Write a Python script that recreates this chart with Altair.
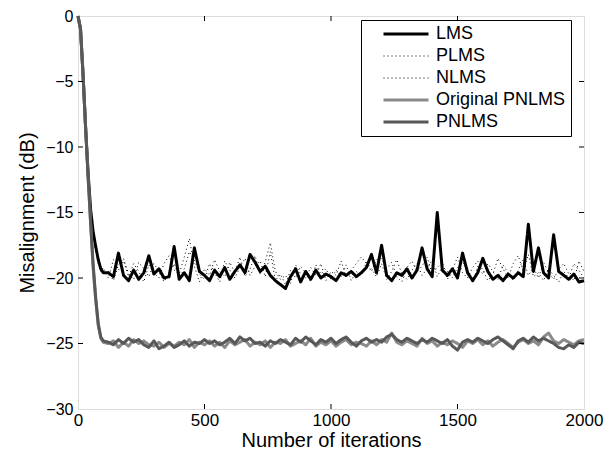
import altair as alt
import pandas as pd

# ---------- data ----------
series_names = ["LMS", "PLMS", "NLMS", "Original PNLMS", "PNLMS"]
series_colors = ["#000000", "#000000", "#000000", "#8a8a8a", "#585858"]
series_widths = [3, 1, 1, 3, 3]
series_dash = [[1, 0], [1, 3], [1, 3], [1, 0], [1, 0]]

iters = [0, 10, 20, 30, 40, 50, 60, 70, 80, 90, 100] + list(range(120, 2001, 20))

lms = [0, -1, -4.5, -8.5, -12, -14.8, -16.5, -17.6, -18.6, -19.3, -19.6,
       -19.6, -19.9, -18.1, -19.8, -20.2, -19.4, -20.1, -19.6, -18.3, -19.7,
       -19.3, -20.0, -19.9, -17.6, -20.1, -19.6, -20.2, -17.7, -19.5, -19.8,
       -20.2, -19.4, -19.9, -19.2, -20.1, -19.5, -19.0, -19.6, -18.2, -18.8,
       -19.5, -19.1, -19.8, -20.2, -20.5, -20.8, -19.9, -19.3, -20.3, -19.5,
       -20.1, -19.4, -20.0, -19.7, -19.9, -20.2, -19.6, -19.8, -19.5, -19.9,
       -19.6, -19.2, -18.2, -19.6, -17.5, -19.8, -20.2, -19.6, -19.8, -19.3,
       -20.0, -19.4, -17.7, -19.3, -19.9, -15.0, -19.4, -19.8, -19.3, -20.0,
       -18.1, -19.6, -20.2, -19.6, -18.5, -19.5, -20.1, -19.8, -20.2, -19.7,
       -20.0, -19.6, -19.9, -15.9, -19.5, -17.7, -19.6, -20.0, -16.7, -19.5,
       -19.8, -20.1, -19.7, -20.3, -20.2]

plms = [0, -1, -4.5, -8.5, -12, -14.8, -16.8, -18.0, -18.8, -19.5, -19.2,
        -20.0, -18.6, -19.4, -18.7, -19.9, -18.9, -19.5, -20.3, -19.0, -19.6,
        -20.0, -18.9, -18.3, -19.4, -19.7, -18.4, -17.0, -19.1, -20.3, -19.3,
        -19.8, -18.6, -19.5, -19.9, -18.8, -19.6, -18.4, -19.9, -19.3, -18.3,
        -19.7, -18.8, -17.3, -19.5, -20.1, -19.8, -20.4, -19.0, -19.7, -20.0,
        -19.2, -19.8, -18.9, -20.2, -19.5, -19.8, -18.7, -19.9, -19.4, -18.9,
        -18.4, -18.9, -19.5, -18.6, -18.5, -19.3, -18.8, -19.9, -20.3, -19.2,
        -18.7, -19.5, -19.1, -18.4, -19.7, -19.2, -18.8, -20.1, -19.4, -18.4,
        -19.6, -20.0, -19.2, -18.7, -19.4, -20.2, -19.7, -18.5, -19.3, -20.0,
        -18.9, -18.3, -19.5, -18.2, -19.9, -19.6, -20.2, -19.3, -19.8, -20.3,
        -19.5, -20.0, -18.9, -19.4, -20.0]

nlms = [0, -1, -4.5, -8.5, -12, -14.8, -16.6, -17.8, -18.9, -19.2, -19.6,
        -19.5, -20.2, -19.0, -18.5, -19.7, -20.1, -18.8, -19.3, -19.9, -18.9,
        -19.5, -20.3, -19.6, -18.9, -20.0, -19.3, -18.0, -18.6, -19.7, -20.1,
        -18.9, -19.6, -20.3, -18.7, -19.4, -20.0, -19.2, -18.5, -19.8, -19.1,
        -18.7, -19.9, -18.0, -20.2, -19.7, -20.5, -19.4, -20.0, -19.1, -19.6,
        -20.3, -19.0, -19.7, -19.3, -20.1, -19.4, -19.9, -19.0, -20.2, -19.5,
        -19.8, -18.8, -19.3, -19.9, -18.9, -20.1, -19.5, -18.6, -19.7, -20.1,
        -19.4, -18.9, -19.8, -19.3, -18.6, -19.9, -19.1, -19.5, -20.0, -19.2,
        -18.8, -19.4, -20.4, -19.1, -19.7, -18.9, -19.5, -20.1, -19.0, -19.6,
        -20.2, -19.4, -18.6, -19.8, -19.2, -20.0, -18.8, -19.6, -20.1, -19.3,
        -18.9, -19.7, -20.2, -18.7, -19.5]

orig_pnlms = [0, -1, -4.5, -8.5, -12.3, -15.9, -19.3, -21.7, -23.6, -24.6, -24.9,
              -25.0, -24.8, -25.3, -24.9, -25.2, -24.7, -25.0, -24.8, -25.1, -25.2,
              -24.9, -25.3, -25.0, -25.2, -24.9, -25.1, -24.7, -25.3, -24.9, -25.1,
              -24.8, -25.2, -24.9, -25.3, -24.8, -25.1, -24.9, -24.7, -25.2, -24.9,
              -25.1, -24.8, -25.3, -24.9, -25.0, -24.7, -25.2, -25.0, -24.8, -25.1,
              -24.6, -25.2, -24.9, -25.1, -24.8, -25.2, -24.9, -24.7, -25.1, -24.9,
              -25.0, -25.2, -24.8, -25.1, -24.7, -24.9, -24.2, -24.9, -25.1, -24.8,
              -25.0, -25.2, -24.6, -25.0, -24.8, -25.2, -24.9, -25.1, -24.8, -25.0,
              -25.3, -24.8, -25.0, -24.7, -25.1, -24.8, -25.2, -24.9, -24.7, -25.0,
              -25.3, -24.9, -24.7, -25.0, -24.8, -25.1, -24.5, -24.2, -24.8, -25.0,
              -24.7, -24.9, -25.1, -24.8, -24.7]

pnlms = [0, -1, -4.5, -8.5, -12.3, -15.8, -19.0, -21.5, -23.5, -24.5, -24.8,
         -24.9, -25.1, -24.7, -25.0, -24.6, -24.9, -24.7, -25.1, -25.3, -24.8,
         -25.4, -25.2, -24.9, -25.3, -25.1, -24.8, -25.2, -24.9, -25.0, -24.7,
         -25.0, -24.8, -25.1, -24.9, -24.6, -25.0, -24.5, -24.8, -24.6, -25.0,
         -24.9, -25.2, -24.8, -25.0, -24.7, -24.9, -25.1, -24.6, -24.9, -24.5,
         -24.8, -25.1, -24.7, -24.9, -24.6, -25.0, -24.7, -24.5, -24.9, -25.2,
         -24.8, -24.6, -24.9, -24.7, -24.9, -24.5, -24.3, -24.7, -24.9, -24.6,
         -24.8, -25.0, -24.7, -24.9, -24.6, -24.8, -25.0, -24.7, -25.2, -25.5,
         -24.9, -24.7, -24.9, -24.6, -24.8, -25.0, -24.7, -24.5, -24.8, -25.1,
         -25.4, -24.8, -24.6, -24.9, -24.5, -24.8, -24.6, -24.8, -25.0, -25.3,
         -25.4, -25.1, -25.3, -24.9, -25.0]

x_ticks = [0, 500, 1000, 1500, 2000]
y_ticks = [0, -5, -10, -15, -20, -25, -30]

# ---------- table ----------
values = {"LMS": lms, "PLMS": plms, "NLMS": nlms,
          "Original PNLMS": orig_pnlms, "PNLMS": pnlms}
rows = []
for name in series_names:
    for it, v in zip(iters, values[name]):
        rows.append({"iter": it, "mis": v, "alg": name})
df = pd.DataFrame(rows)

W, H = 506, 393
FONT = "Liberation Sans"

xscale = alt.Scale(domain=[0, 2000], nice=False, zero=False)
yscale = alt.Scale(domain=[-30, 0], nice=False, zero=False)

xaxis = alt.Axis(values=x_ticks, ticks=False, grid=False, domain=False, format="d",
                 labelFontSize=17, labelPadding=3, labelColor="black",
                 title="Number of iterations", titleFontSize=20,
                 titleFontWeight="normal", titleColor="black", titlePadding=2,
                 labelFlush=False)
yaxis = alt.Axis(values=y_ticks, ticks=False, grid=False, domain=False,
                 labelFontSize=16, labelPadding=5, labelColor="black",
                 title="Misalignment (dB)", titleFontSize=20,
                 titleFontWeight="normal", titleColor="black", titlePadding=8,
                 labelFlush=False)

color_enc = alt.Color("alg:N", scale=alt.Scale(domain=series_names, range=series_colors),
                      legend=alt.Legend(title=None, orient="none", legendX=283, legendY=4,
                                        symbolType="stroke", symbolSize=2025,
                                        symbolOffset=16, clipHeight=18,
                                        labelFontSize=18, labelColor="black",
                                        labelFont=FONT, padding=5,
                                        fillColor="white", strokeColor="black",
                                        rowPadding=4, labelOffset=6))
width_enc = alt.StrokeWidth("alg:N",
                            scale=alt.Scale(type="ordinal", domain=series_names, range=series_widths),
                            legend=None)
dash_enc = alt.StrokeDash("alg:N", scale=alt.Scale(domain=series_names, range=series_dash),
                          legend=None)

base = alt.Chart(df).mark_line(strokeCap="butt", strokeJoin="round").encode(
    x=alt.X("iter:Q", scale=xscale, axis=xaxis),
    y=alt.Y("mis:Q", scale=yscale, axis=yaxis),
    color=color_enc,
    strokeWidth=width_enc,
    strokeDash=dash_enc,
    detail="alg:N",
)

draw_order = ["PLMS", "NLMS", "LMS", "Original PNLMS", "PNLMS"]
layers = [base.transform_filter(alt.datum.alg == n) for n in draw_order]

xt = pd.DataFrame({"t": x_ticks[1:-1]})
yt = pd.DataFrame({"t": y_ticks[1:-1]})
tick_bottom = alt.Chart(xt).mark_rule(color="black", strokeWidth=1).encode(
    x=alt.X("t:Q", scale=xscale), y=alt.value(H), y2=alt.value(H - 5))
tick_top = alt.Chart(xt).mark_rule(color="black", strokeWidth=1).encode(
    x=alt.X("t:Q", scale=xscale), y=alt.value(0), y2=alt.value(5))
tick_left = alt.Chart(yt).mark_rule(color="black", strokeWidth=1).encode(
    y=alt.Y("t:Q", scale=yscale), x=alt.value(0), x2=alt.value(5))
tick_right = alt.Chart(yt).mark_rule(color="black", strokeWidth=1).encode(
    y=alt.Y("t:Q", scale=yscale), x=alt.value(W), x2=alt.value(W - 5))

chart = alt.layer(*layers, tick_bottom, tick_top, tick_left, tick_right).properties(
    width=W, height=H,
    autosize=alt.AutoSizeParams(type="none"),
    padding={"left": 70, "top": 8, "right": 22, "bottom": 46},
).configure_view(stroke="black", strokeWidth=1).configure(
    font=FONT, background="white"
).configure_legend(cornerRadius=0, strokeWidth=1)

chart.save("out.html", embed_options={"renderer": "svg", "actions": False})
